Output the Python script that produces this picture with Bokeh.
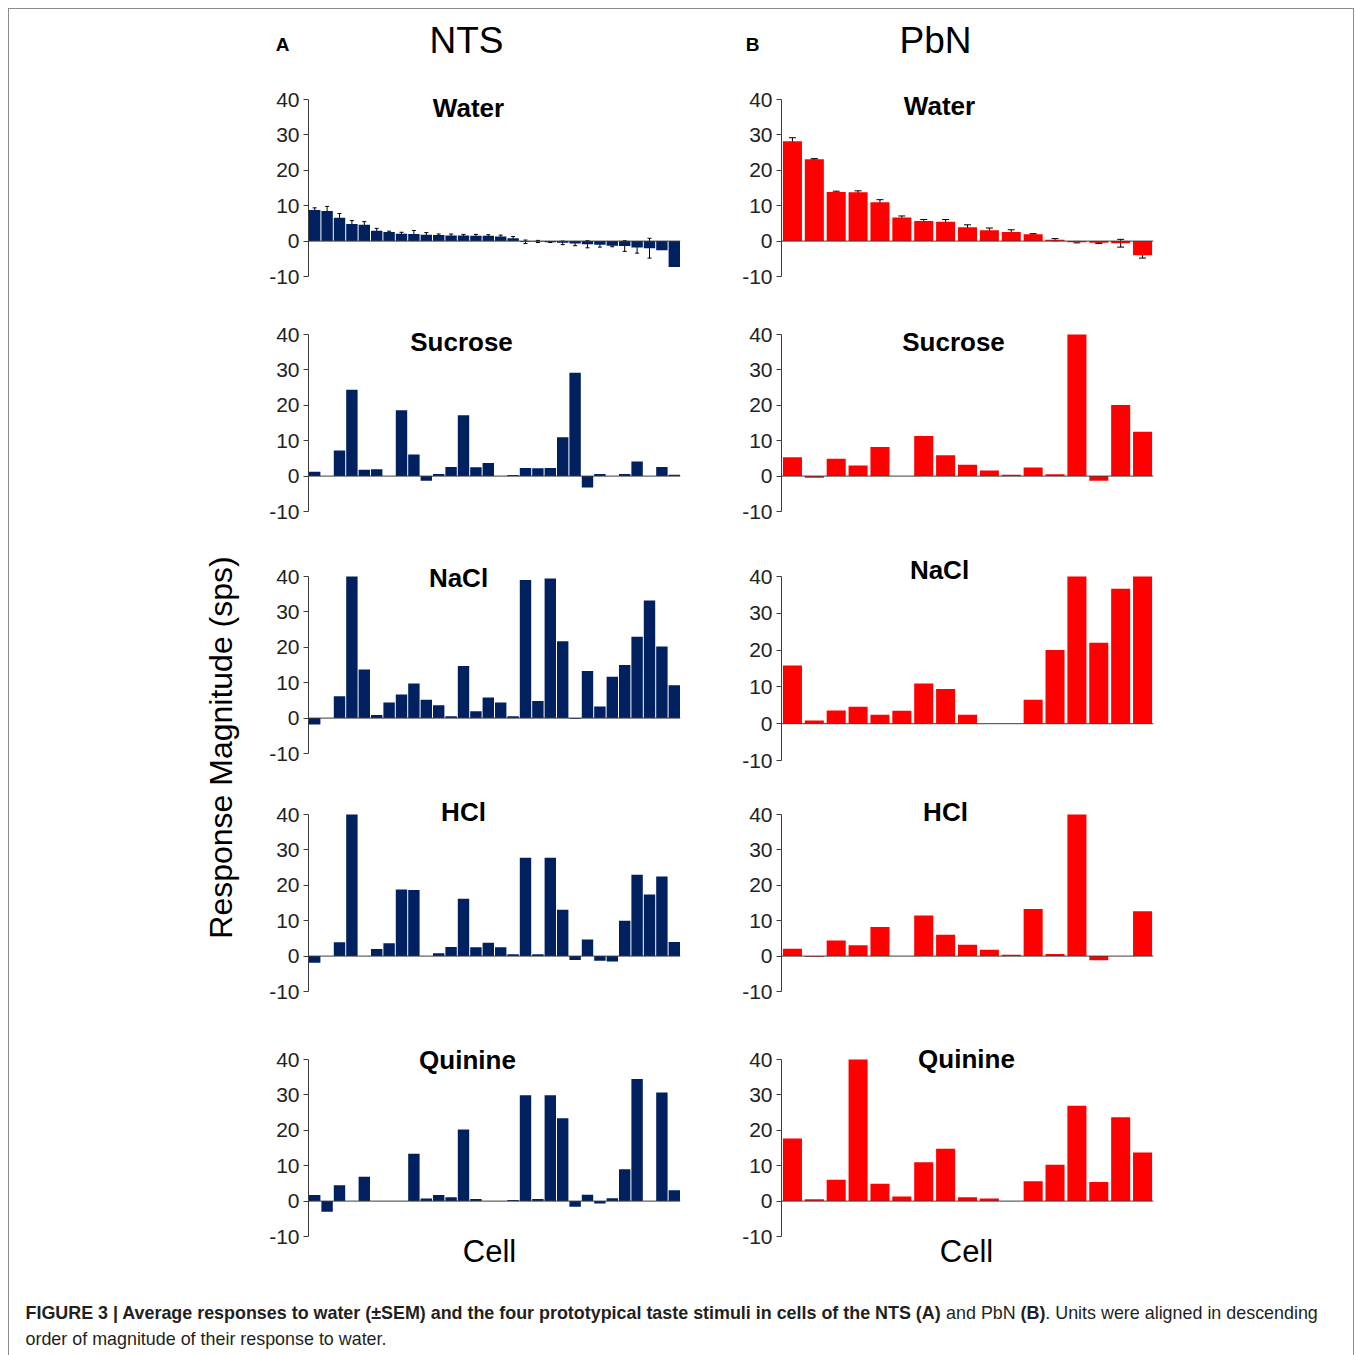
import math
from bokeh.plotting import figure
from bokeh.layouts import column, row
from bokeh.models import Range1d, FixedTicker, Span, Whisker, TeeHead, ColumnDataSource
from bokeh.embed import file_html
from bokeh.resources import INLINE
from bokeh.core.properties import value

# ---------------- data ----------------
stimuli = ["Water", "Sucrose", "NaCl", "HCl", "Quinine"]

nts_water = [8.8, 8.5, 6.6, 4.8, 4.6, 2.9, 2.6, 2.1, 2.0, 1.8, 1.7, 1.6, 1.6, 1.5, 1.5,
             1.3, 0.8, -0.2, -0.1, -0.3, -0.5, -0.7, -0.9, -1.0, -1.3, -1.4, -1.8, -2.0, -2.6, -7.3]
nts_water_sem = [0.6, 1.3, 1.2, 1.0, 0.9, 0.7, 0.2, 0.4, 1.0, 0.6, 0.3, 0.4, 0.3, 0.4, 0.3,
                 0.4, 0.5, 0.5, 0.3, 0.1, 0.5, 0.6, 1.0, 0.7, 0.3, 1.5, 1.6, 2.8, 0.0, 0.0]
nts_sucrose = [1.2, 0, 7.2, 24.4, 1.8, 1.9, 0, 18.6, 6.1, -1.3, 0.6, 2.6, 17.2, 2.5, 3.7,
               0, 0.3, 2.3, 2.2, 2.3, 11.0, 29.2, -3.2, 0.6, 0, 0.6, 4.1, 0, 2.6, 0.4]
nts_nacl = [-1.8, 0, 6.2, 40, 13.7, 0.9, 4.4, 6.7, 9.8, 5.2, 3.6, 0.5, 14.7, 1.9, 5.8,
            4.4, 0.5, 39.0, 4.8, 39.4, 21.7, -0.2, 13.3, 3.3, 11.7, 15.0, 23.0, 33.2, 20.2, 9.3]
nts_hcl = [-1.9, 0, 3.9, 40, 0, 2.0, 3.6, 18.8, 18.7, 0, 0.8, 2.6, 16.2, 2.5, 3.8,
           2.5, 0.5, 27.8, 0.5, 27.8, 13.1, -1.1, 4.7, -1.3, -1.5, 10.0, 23.0, 17.4, 22.5, 4.0]
nts_quinine = [1.7, -3.0, 4.5, 0, 6.9, 0, 0, 0, 13.4, 0.7, 1.7, 1.1, 20.2, 0.6, 0,
               0, 0.3, 29.9, 0.6, 29.9, 23.4, -1.6, 1.8, -0.7, 0.8, 9.0, 34.5, 0, 30.7, 3.1]

pbn_water = [28.2, 23.1, 13.9, 13.8, 11.0, 6.7, 5.7, 5.5, 3.9, 3.1, 2.6, 1.9, 0.4, -0.3, -0.5, -0.6, -4.0]
pbn_water_sem = [1.0, 0.2, 0.2, 0.4, 0.7, 0.4, 0.4, 0.6, 0.7, 0.6, 0.6, 0.2, 0.3, 0.2, 0.2, 1.1, 0.8]
pbn_sucrose = [5.3, -0.5, 4.9, 3.0, 8.2, 0, 11.3, 5.9, 3.2, 1.6, 0.4, 2.4, 0.5, 40, -1.3, 20.1, 12.5]
pbn_nacl = [15.8, 0.9, 3.6, 4.6, 2.4, 3.5, 10.9, 9.4, 2.4, 0, 0, 6.5, 20.0, 40, 22.0, 36.7, 40]
pbn_hcl = [2.1, -0.2, 4.4, 3.1, 8.2, 0, 11.5, 6.0, 3.2, 1.8, 0.4, 13.3, 0.6, 40, -1.2, 0, 12.7]
pbn_quinine = [17.7, 0.5, 6.0, 40, 4.9, 1.3, 11.0, 14.8, 1.1, 0.7, 0, 5.6, 10.3, 26.9, 5.4, 23.7, 13.7]

y_ticks = [-10, 0, 10, 20, 30, 40]
x_label = "Cell"
y_label = "Response Magnitude (sps)"

# ---------------- style / layout (page pixel geometry) ----------------
NAVY = "#002060"
RED = "#ff0000"
FONT = "Liberation Sans"
AXIS_COL = "#3c3c3c"
Y_TOP = 46
FRAME_W = 372
COL_TOP = 70          # page y where the panel columns start
PAGE_X0, PAGE_Y0 = 9, 9   # inner top-left corner of the bordered block


def make_panel(vals, color, fig_top, y40, ppu, y_bottom, fig_w, mbl, mbr, frame_left,
               bar_w, title, title_px, sem=None, cap=5, extra=None):
    n = len(vals)
    ftop = round(y40 - (Y_TOP - 40) * ppu)
    fbot = round(y40 + (40 - y_bottom) * ppu)
    r_end = 40 + (y40 - ftop) / ppu
    r_start = 40 - (fbot - y40) / ppu
    mbt = ftop - fig_top
    p = figure(width=fig_w, height=fbot - fig_top,
               x_range=Range1d(0.5, n + 0.5), y_range=Range1d(r_start, r_end),
               x_axis_location=None, toolbar_location=None, output_backend="svg",
               min_border_left=mbl, min_border_right=mbr, min_border_top=mbt,
               min_border_bottom=0)
    p.title.visible = False
    p.outline_line_color = None
    p.grid.visible = False
    cells = list(range(1, n + 1))
    src = ColumnDataSource(dict(x=cells, top=vals))
    p.vbar(x="x", top="top", bottom=0, width=bar_w, source=src,
           fill_color=color, line_color=None)
    p.add_layout(Span(location=0, dimension="width", line_color=AXIS_COL, line_width=1))
    if sem is not None:
        xs = [c for c, s in zip(cells, sem) if s > 0]
        up = [v + s for v, s in zip(vals, sem) if s > 0]
        lo = [v - s for v, s in zip(vals, sem) if s > 0]
        esrc = ColumnDataSource(dict(x=xs, upper=up, lower=lo))
        p.add_layout(Whisker(source=esrc, base="x", upper="upper", lower="lower",
                             line_color="black", line_width=1,
                             upper_head=TeeHead(size=cap, line_color="black", line_width=1),
                             lower_head=TeeHead(size=cap, line_color="black", line_width=1)))
    ax = p.yaxis[0]
    ax.ticker = FixedTicker(ticks=y_ticks)
    ax.major_label_overrides = {t: str(t) for t in y_ticks}
    ax.bounds = (-10, 40)
    ax.axis_line_color = AXIS_COL
    ax.major_tick_line_color = AXIS_COL
    ax.major_tick_out = 5
    ax.major_tick_in = 0
    ax.minor_tick_line_color = None
    ax.major_label_standoff = 4
    ax.major_label_text_font = FONT
    ax.major_label_text_font_size = "21px"
    ax.major_label_text_color = "#222222"

    ppx = FRAME_W / n

    def to_data(px, py):
        return 0.5 + (px - frame_left) / ppx, 40 - (py - y40) / ppu

    tx, ty = to_data(*title_px)
    p.text(x=[tx], y=[ty], text=[title], text_font=value(FONT), text_font_style="bold",
           text_font_size="26px", text_align="center", text_baseline="middle",
           text_color="black")
    if extra is not None:
        etxt, epx = extra
        ex, ey = to_data(*epx)
        p.text(x=[ex], y=[ey], text=[etxt], text_font=value(FONT), text_font_size="31px",
               text_align="center", text_baseline="middle", text_color="black")
    return p, fbot


nts_vals = [nts_water, nts_sucrose, nts_nacl, nts_hcl, nts_quinine]
pbn_vals = [pbn_water, pbn_sucrose, pbn_nacl, pbn_hcl, pbn_quinine]

nts_y40 = [99, 334, 576, 814, 1059]
nts_ppu = [3.54, 3.54, 3.54, 3.54, 3.54]
nts_tpos = [(468, 107), (461, 341), (458, 577), (463, 811), (467, 1059)]
pbn_y40 = [99, 334, 576, 814, 1059]
pbn_ppu = [3.54, 3.54, 3.68, 3.54, 3.54]
pbn_tpos = [(939, 105), (953, 341), (939, 569), (945, 811), (966, 1058)]
y_bottoms = [-13.5, -13.5, -13.5, -13.5, -21.5]


def build_column(vals_list, y40s, ppus, tpos, color, fig_w, mbl, mbr, frame_left, bar_w,
                 sem, cap, cell_px):
    figs = []
    top = COL_TOP
    for i, name in enumerate(stimuli):
        extra = (x_label, cell_px) if i == len(stimuli) - 1 else None
        f, bot = make_panel(vals_list[i], color, top, y40s[i], ppus[i], y_bottoms[i],
                            fig_w, mbl, mbr, frame_left, bar_w, name, tpos[i],
                            sem=sem if i == 0 else None, cap=cap, extra=extra)
        figs.append(f)
        top = bot
    return figs, top


left_panels, col_bottom = build_column(nts_vals, nts_y40, nts_ppu, nts_tpos, NAVY, 460, 68, 20,
                                       308, 0.92, nts_water_sem, 4, (489, 1251))
right_panels, _ = build_column(pbn_vals, pbn_y40, pbn_ppu, pbn_tpos, RED, 480, 81, 27,
                               781, 0.87, pbn_water_sem, 7, (966, 1251))


def text_fig(w, h):
    f = figure(width=w, height=h, x_range=Range1d(0, w), y_range=Range1d(h, 0),
               x_axis_location=None, y_axis_location=None, toolbar_location=None,
               output_backend="svg", min_border=0)
    f.title.visible = False
    f.outline_line_color = None
    f.grid.visible = False
    return f


FULL_W = 1344
# header (page y 9..COL_TOP)
header = text_fig(FULL_W, COL_TOP - PAGE_Y0)
hy = lambda y: y - PAGE_Y0
hx = lambda x: x - PAGE_X0
header.text(x=[hx(282), hx(752)], y=[hy(44), hy(44)], text=["A", "B"], text_font=value(FONT),
            text_font_style="bold", text_font_size="19px", text_align="center",
            text_baseline="middle", text_color="black")
header.text(x=[hx(466), hx(935)], y=[hy(40), hy(40)], text=["NTS", "PbN"], text_font=value(FONT),
            text_font_size="37px", text_align="center", text_baseline="middle",
            text_color="black")

# y label strip (page x 9..240)
ylab = text_fig(240 - PAGE_X0, col_bottom - COL_TOP)
ylab.text(x=[hx(220)], y=[747 - COL_TOP], text=[y_label], angle=math.pi / 2,
          text_font=value(FONT), text_font_size="32px", text_align="center",
          text_baseline="middle", text_color="black")

# footer with caption (page y col_bottom..1355)
FOOT_H = 1355 - col_bottom
footer = text_fig(FULL_W, FOOT_H)
fy = lambda y: y - col_bottom
cap_col = "#231f20"
CAP_SIZE = "17.9px"
footer.text(x=[hx(25), hx(1020)], y=[fy(1312), fy(1312)],
            text=["FIGURE 3 | Average responses to water (±SEM) and the four prototypical taste stimuli in cells of the NTS (A)", "(B)"],
            text_font=value(FONT), text_font_style="bold", text_font_size=CAP_SIZE,
            text_align="left", text_baseline="middle", text_color=cap_col)
footer.text(x=[hx(945.6), hx(1044.8), hx(25)], y=[fy(1312), fy(1312), fy(1338)],
            text=["and PbN", ". Units were aligned in descending",
                  "order of magnitude of their response to water."],
            text_font=value(FONT), text_font_size=CAP_SIZE,
            text_align="left", text_baseline="middle", text_color=cap_col)

layout = column(
    header,
    row(ylab, column(*left_panels), column(*right_panels)),
    footer,
    styles={"margin-left": "8px", "margin-top": "8px",
            "border-top": "1px solid #8c8c8c", "border-left": "1px solid #8c8c8c",
            "border-right": "1px solid #8c8c8c"},
)

open("out.html", "w").write(file_html(layout, INLINE))
